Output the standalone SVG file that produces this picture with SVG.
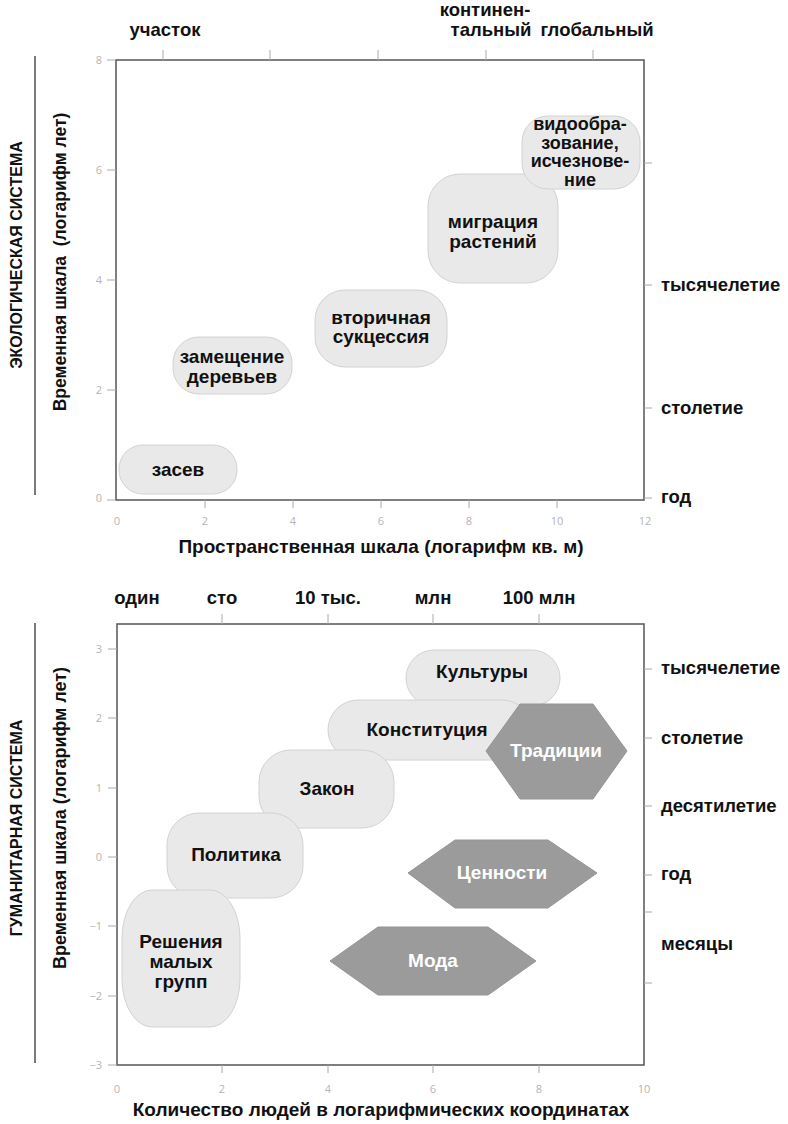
<svg xmlns="http://www.w3.org/2000/svg" width="788" height="1124" viewBox="0 0 788 1124">
<style>
.lbl{font-family:"Liberation Sans",Arial,sans-serif;font-weight:bold;font-size:19px;fill:#111;text-anchor:middle}
.side{font-family:"Liberation Sans",Arial,sans-serif;font-weight:bold;font-size:18.5px;fill:#111}
.ttl{font-family:"Liberation Sans",Arial,sans-serif;font-weight:bold;font-size:16px;fill:#111;text-anchor:middle}
.num{font-family:"Open Sans","DejaVu Sans",sans-serif;font-size:11px;fill:#b4b4b4}
.box{fill:none;stroke:#555;stroke-width:1.5}
.tick{stroke:#aaa;stroke-width:1}
.rule{stroke:#222;stroke-width:1.2}
.pill{fill:#e9e9e9;stroke:#d2d2d2;stroke-width:1}
.hex{fill:#9b9b9b;stroke:#959595;stroke-width:1}
.wl{font-family:"Liberation Sans",Arial,sans-serif;font-weight:bold;font-size:19px;fill:#fff;text-anchor:middle}
</style>
<rect width="788" height="1124" fill="#fff"/>

<!-- ===== TOP CHART ===== -->
<g id="eco-frame">
<line class="rule" x1="35" y1="56" x2="35" y2="495"/>
<text class="ttl" transform="translate(22,255) rotate(-90)">ЭКОЛОГИЧЕСКАЯ СИСТЕМА</text>
<text class="ttl" style="font-size:17.5px" transform="translate(66,262) rotate(-90)" xml:space="preserve">Временная шкала  (логарифм лет)</text>
<rect class="box" x="116" y="60" width="528" height="440"/>
<g class="tick">
<line x1="107" y1="60" x2="116" y2="60"/><line x1="107" y1="170" x2="116" y2="170"/><line x1="107" y1="280" x2="116" y2="280"/><line x1="107" y1="390" x2="116" y2="390"/><line x1="107" y1="500" x2="116" y2="500"/>
<line x1="205" y1="500" x2="205" y2="508"/><line x1="293" y1="500" x2="293" y2="508"/><line x1="381" y1="500" x2="381" y2="508"/><line x1="469" y1="500" x2="469" y2="508"/><line x1="557" y1="500" x2="557" y2="508"/>
<line x1="163" y1="50" x2="163" y2="60"/><line x1="270" y1="50" x2="270" y2="60"/><line x1="378" y1="50" x2="378" y2="60"/><line x1="486" y1="50" x2="486" y2="60"/><line x1="593" y1="50" x2="593" y2="60"/>
<line x1="644" y1="163" x2="652" y2="163"/><line x1="644" y1="285" x2="652" y2="285"/><line x1="644" y1="408" x2="652" y2="408"/><line x1="644" y1="498" x2="652" y2="498"/>
</g>
<g class="num" text-anchor="end">
<text x="102" y="64">8</text><text x="102" y="174">6</text><text x="102" y="284">4</text><text x="102" y="394">2</text><text x="102" y="502">0</text>
</g>
<g class="num" text-anchor="middle">
<text x="117" y="525">0</text><text x="205" y="525">2</text><text x="293" y="525">4</text><text x="381" y="525">6</text><text x="469" y="525">8</text><text x="557" y="525">10</text><text x="645" y="525">12</text>
</g>
<text class="lbl" x="381" y="553">Пространственная шкала (логарифм кв. м)</text>
<text class="side" x="165" y="36" text-anchor="middle">участок</text>
<text class="side" x="485" y="16" text-anchor="middle">континен-</text>
<text class="side" x="491" y="36" text-anchor="middle">тальный</text>
<text class="side" x="597" y="36" text-anchor="middle">глобальный</text>
<text class="side" x="661" y="291">тысячелетие</text>
<text class="side" x="661" y="414">столетие</text>
<text class="side" x="661" y="503">год</text>
</g>

<g id="n-zasev"><rect class="pill" x="119" y="445" width="118" height="49" rx="24"/><text class="lbl" x="178" y="476">засев</text></g>
<g id="n-zameshchenie"><rect class="pill" x="173" y="337" width="119" height="57" rx="26"/><text class="lbl" x="232" y="363">замещение</text><text class="lbl" x="232" y="383">деревьев</text></g>
<g id="n-suktsessiya"><rect class="pill" x="315" y="290" width="132" height="77" rx="30"/><text class="lbl" x="381" y="324">вторичная</text><text class="lbl" x="381" y="343">сукцессия</text></g>
<g id="n-migratsiya"><rect class="pill" x="428" y="174" width="130" height="109" rx="32"/><text class="lbl" x="493" y="228">миграция</text><text class="lbl" x="493" y="248">растений</text></g>
<g id="n-vidoobr"><rect class="pill" x="522" y="116" width="118" height="73" rx="26"/><text class="lbl" style="font-size:18px" x="580" y="130">видообра-</text><text class="lbl" style="font-size:18px" x="580" y="148.5">зование,</text><text class="lbl" style="font-size:18px" x="580" y="167">исчезнове-</text><text class="lbl" style="font-size:18px" x="580" y="185.5">ние</text></g>

<!-- ===== BOTTOM CHART ===== -->
<g id="hum-frame">
<line class="rule" x1="35" y1="623" x2="35" y2="1063"/>
<text class="ttl" transform="translate(22,828) rotate(-90)">ГУМАНИТАРНАЯ СИСТЕМА</text>
<text class="ttl" style="font-size:18px" transform="translate(66,818) rotate(-90)">Временная шкала (логарифм лет)</text>
<rect class="box" x="117" y="624" width="527" height="441"/>
<g class="tick">
<line x1="108" y1="649" x2="117" y2="649"/><line x1="108" y1="718" x2="117" y2="718"/><line x1="108" y1="788" x2="117" y2="788"/><line x1="108" y1="857" x2="117" y2="857"/><line x1="108" y1="926" x2="117" y2="926"/><line x1="108" y1="996" x2="117" y2="996"/><line x1="108" y1="1065" x2="117" y2="1065"/>
<line x1="222" y1="1065" x2="222" y2="1073"/><line x1="328" y1="1065" x2="328" y2="1073"/><line x1="433" y1="1065" x2="433" y2="1073"/><line x1="539" y1="1065" x2="539" y2="1073"/>
<line x1="222" y1="614" x2="222" y2="624"/><line x1="328" y1="614" x2="328" y2="624"/><line x1="433" y1="614" x2="433" y2="624"/><line x1="539" y1="614" x2="539" y2="624"/>
<line x1="644" y1="669" x2="652" y2="669"/><line x1="644" y1="738" x2="652" y2="738"/><line x1="644" y1="806" x2="652" y2="806"/><line x1="644" y1="875" x2="652" y2="875"/><line x1="644" y1="912" x2="652" y2="912"/><line x1="644" y1="983" x2="652" y2="983"/>
</g>
<g class="num" text-anchor="end">
<text x="102" y="653">3</text><text x="102" y="722">2</text><text x="102" y="792">1</text><text x="102" y="861">0</text><text x="102" y="930">−1</text><text x="102" y="1000">−2</text><text x="102" y="1069">−3</text>
</g>
<g class="num" text-anchor="middle">
<text x="117" y="1093">0</text><text x="222" y="1093">2</text><text x="328" y="1093">4</text><text x="433" y="1093">6</text><text x="539" y="1093">8</text><text x="644" y="1093">10</text>
</g>
<text class="lbl" x="381" y="1116">Количество людей в логарифмических координатах</text>
<text class="side" x="137" y="604" text-anchor="middle">один</text>
<text class="side" x="222" y="604" text-anchor="middle">сто</text>
<text class="side" x="328" y="604" text-anchor="middle">10 тыс.</text>
<text class="side" x="433" y="604" text-anchor="middle">млн</text>
<text class="side" x="539" y="604" text-anchor="middle">100 млн</text>
<text class="side" x="661" y="674">тысячелетие</text>
<text class="side" x="661" y="744">столетие</text>
<text class="side" x="661" y="812">десятилетие</text>
<text class="side" x="661" y="880">год</text>
<text class="side" x="661" y="950">месяцы</text>
</g>

<g id="n-kultury"><rect class="pill" x="406" y="650" width="154" height="56" rx="28"/><text class="lbl" x="482" y="678">Культуры</text></g>
<g id="n-konstitutsiya"><rect class="pill" x="328" y="700" width="204" height="60" rx="30"/><text class="lbl" x="427" y="736">Конституция</text></g>
<g id="n-zakon"><rect class="pill" x="259" y="750" width="135" height="78" rx="32"/><text class="lbl" x="327" y="795">Закон</text></g>
<g id="n-politika"><rect class="pill" x="167" y="813" width="136" height="85" rx="32"/><text class="lbl" x="236" y="861">Политика</text></g>
<g id="n-resheniya"><rect class="pill" x="122" y="890" width="118" height="137" rx="30" ry="48"/><text class="lbl" x="181" y="948">Решения</text><text class="lbl" x="181" y="968">малых</text><text class="lbl" x="181" y="988">групп</text></g>
<g id="n-traditsii"><polygon class="hex" points="486,751 520,704 593,704 627,751 593,799 520,799"/><text class="wl" x="556" y="757">Традиции</text></g>
<g id="n-tsennosti"><polygon class="hex" points="408,873 455,840 548,840 597,873 548,908 455,908"/><text class="wl" x="502" y="879">Ценности</text></g>
<g id="n-moda"><polygon class="hex" points="330,961 378,927 488,927 536,961 488,995 378,995"/><text class="wl" x="433" y="967">Мода</text></g>

<g id="connectors"></g>
</svg>
